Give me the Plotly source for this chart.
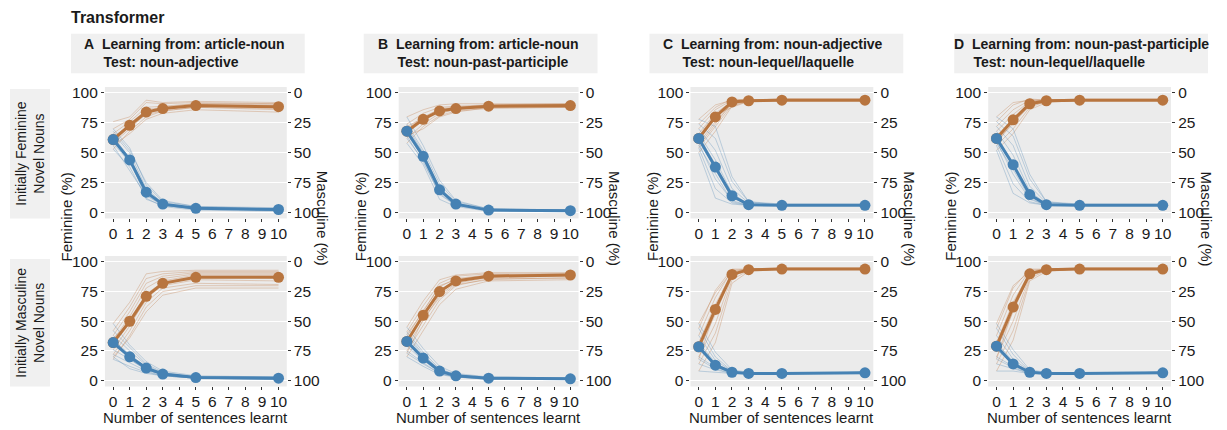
import plotly.graph_objects as go

# ---------------------------------------------------------------------------
# Data: share of feminine agreement (%) after n learnt sentences
# ---------------------------------------------------------------------------
STEPS = [0, 1, 2, 3, 5, 10]
X_TICKS = list(range(11))
Y_TICKS = [0, 25, 50, 75, 100]

PANEL_TITLES = [
    ("A", "Learning from: article-noun", "Test: noun-adjective"),
    ("B", "Learning from: article-noun", "Test: noun-past-participle"),
    ("C", "Learning from: noun-adjective", "Test: noun-lequel/laquelle"),
    ("D", "Learning from: noun-past-participle", "Test: noun-lequel/laquelle"),
]
ROW_LABELS = ["Initially Feminine<br>Novel Nouns", "Initially Masculine<br>Novel Nouns"]

# ---- A, initially feminine ----
A_FEM_F_MEAN = [61, 73, 84, 87, 89.5, 88.5]
A_FEM_F_RUNS = [
    [53, 68, 80, 85, 88, 87], [58, 70, 83, 86, 90, 89], [62, 74, 86, 88, 91, 90],
    [66, 76, 88, 89, 91, 91], [70, 78, 92, 91, 92, 91], [76, 80, 94, 92, 93, 92],
    [56, 66, 78, 83, 86, 84], [64, 72, 82, 85, 88, 86],
]
A_FEM_M_MEAN = [61, 44, 17, 7, 3.5, 2.5]
A_FEM_M_RUNS = [
    [53, 38, 12, 5, 2, 1], [58, 42, 15, 6, 3, 2], [62, 46, 18, 7, 4, 3],
    [66, 50, 20, 8, 4, 3], [70, 54, 23, 9, 5, 4], [68, 52, 25, 10, 5, 3],
    [56, 35, 14, 6, 3, 2], [64, 45, 11, 6, 3, 2],
]
# ---- A, initially masculine ----
A_MASC_F_MEAN = [32, 50, 71, 82, 87, 87]
A_MASC_F_RUNS = [
    [18, 38, 62, 75, 80, 80], [22, 42, 66, 78, 82, 81], [26, 46, 70, 80, 85, 84],
    [30, 50, 73, 83, 88, 88], [34, 54, 78, 86, 90, 90], [38, 58, 82, 88, 91, 91],
    [42, 62, 86, 90, 92, 92], [48, 66, 90, 92, 93, 93], [20, 36, 58, 72, 78, 78],
    [36, 48, 68, 84, 89, 89],
]
A_MASC_M_MEAN = [32, 20, 10.5, 5.5, 2.5, 2]
A_MASC_M_RUNS = [
    [18, 12, 7, 4, 2, 1], [22, 15, 8, 4, 2, 1], [26, 18, 9, 5, 2, 2],
    [30, 20, 10, 5, 3, 2], [34, 22, 11, 6, 3, 2], [38, 25, 13, 6, 3, 3],
    [42, 28, 14, 7, 3, 3], [48, 30, 16, 8, 4, 3], [20, 10, 6, 4, 2, 1],
    [36, 18, 9, 5, 3, 2],
]

# ---- B, initially feminine ----
B_FEM_F_MEAN = [68, 78, 85, 87, 89, 89.5]
B_FEM_F_RUNS = [
    [58, 72, 81, 85, 87, 88], [62, 74, 83, 86, 88, 88], [66, 77, 85, 87, 89, 89],
    [70, 80, 86, 88, 90, 90], [74, 83, 88, 89, 90, 91], [80, 86, 90, 91, 91, 91],
    [64, 70, 80, 84, 88, 88], [72, 79, 87, 88, 89, 90],
]
B_FEM_M_MEAN = [68, 47, 19, 7, 2, 1.5]
B_FEM_M_RUNS = [
    [58, 40, 11, 5, 1, 1], [62, 44, 15, 6, 2, 1], [66, 46, 18, 7, 2, 2],
    [70, 49, 21, 8, 2, 2], [74, 52, 24, 9, 3, 2], [80, 56, 27, 10, 3, 2],
    [64, 42, 16, 6, 2, 1], [72, 50, 20, 7, 2, 2],
]
# ---- B, initially masculine ----
B_MASC_F_MEAN = [33, 55, 75, 84, 88, 89]
B_MASC_F_RUNS = [
    [20, 42, 64, 77, 84, 85], [25, 46, 68, 80, 86, 86], [29, 50, 72, 82, 87, 88],
    [33, 55, 76, 84, 88, 89], [37, 59, 79, 86, 89, 90], [41, 63, 82, 88, 90, 90],
    [45, 67, 85, 89, 91, 91], [23, 52, 70, 81, 85, 87], [39, 58, 80, 85, 89, 89],
]
B_MASC_M_MEAN = [33, 19, 8, 4, 2, 1.5]
B_MASC_M_RUNS = [
    [20, 12, 5, 3, 1, 1], [25, 15, 6, 3, 1, 1], [29, 17, 7, 4, 2, 1],
    [33, 19, 8, 4, 2, 1], [37, 21, 9, 5, 2, 2], [41, 24, 10, 5, 2, 2],
    [45, 27, 12, 6, 3, 2], [23, 14, 6, 3, 2, 1], [39, 22, 9, 4, 2, 2],
]

# ---- C, initially feminine ----
C_FEM_F_MEAN = [62, 80, 92.5, 93.5, 94, 94]
C_FEM_F_RUNS = [
    [50, 68, 89, 93, 94, 94], [54, 72, 90, 93, 94, 94], [58, 76, 91, 93, 94, 94],
    [62, 80, 92, 93, 94, 94], [66, 83, 93, 94, 94, 94], [70, 86, 94, 94, 95, 95],
    [74, 88, 95, 94, 95, 95], [78, 90, 94, 94, 94, 94], [56, 74, 92, 94, 94, 94],
    [64, 82, 88, 93, 94, 94],
]
C_FEM_M_MEAN = [62, 38, 14, 6.5, 6, 6]
C_FEM_M_RUNS = [
    [50, 12, 7, 6, 6, 6], [54, 20, 8, 6, 6, 6], [58, 28, 10, 6, 6, 6],
    [62, 36, 12, 7, 6, 6], [66, 44, 16, 7, 6, 6], [70, 52, 20, 8, 6, 6],
    [74, 62, 26, 9, 6, 6], [78, 72, 30, 9, 7, 7], [56, 32, 9, 6, 6, 6],
    [64, 40, 14, 7, 6, 6],
]
# ---- C, initially masculine ----
C_MASC_F_MEAN = [28.5, 60, 89.5, 93.5, 94, 94]
C_MASC_F_RUNS = [
    [8, 32, 82, 92, 94, 94], [14, 40, 85, 93, 94, 94], [20, 48, 88, 93, 94, 94],
    [26, 56, 90, 93, 94, 94], [32, 64, 91, 94, 94, 94], [38, 70, 93, 94, 94, 94],
    [44, 76, 94, 94, 95, 95], [48, 74, 92, 94, 94, 94], [18, 60, 89, 93, 94, 94],
]
C_MASC_M_MEAN = [28.5, 13, 7, 6, 6, 6.5]
C_MASC_M_RUNS = [
    [8, 7, 6, 6, 6, 6], [14, 9, 6, 6, 6, 6], [20, 11, 7, 6, 6, 6],
    [26, 13, 7, 6, 6, 6], [32, 15, 7, 6, 6, 7], [38, 17, 8, 6, 6, 7],
    [44, 20, 8, 6, 6, 7], [48, 24, 9, 7, 6, 7], [18, 10, 6, 6, 6, 6],
]

# ---- D, initially feminine ----
D_FEM_F_MEAN = [62, 77.5, 91, 93.5, 94, 94]
D_FEM_F_RUNS = [
    [52, 66, 86, 92, 94, 94], [56, 70, 88, 93, 94, 94], [60, 74, 90, 93, 94, 94],
    [64, 78, 91, 94, 94, 94], [68, 82, 93, 94, 94, 94], [72, 86, 94, 94, 95, 95],
    [76, 90, 95, 94, 94, 94], [80, 92, 94, 94, 94, 94], [58, 76, 89, 93, 94, 94],
]
D_FEM_M_MEAN = [62, 40, 15, 6.5, 6, 6]
D_FEM_M_RUNS = [
    [52, 16, 8, 6, 6, 6], [56, 24, 9, 6, 6, 6], [60, 32, 11, 6, 6, 6],
    [64, 40, 14, 7, 6, 6], [68, 48, 18, 7, 6, 6], [72, 56, 22, 8, 6, 6],
    [76, 64, 28, 9, 6, 6], [80, 70, 32, 9, 7, 7], [58, 36, 12, 6, 6, 6],
]
# ---- D, initially masculine ----
D_MASC_F_MEAN = [29, 62, 90, 93.5, 94, 94]
D_MASC_F_RUNS = [
    [8, 34, 84, 92, 94, 94], [14, 42, 86, 93, 94, 94], [20, 50, 88, 93, 94, 94],
    [26, 58, 90, 93, 94, 94], [32, 66, 91, 94, 94, 94], [38, 72, 93, 94, 94, 94],
    [44, 78, 94, 94, 95, 95], [48, 80, 92, 94, 94, 94], [18, 60, 89, 93, 94, 94],
]
D_MASC_M_MEAN = [29, 14, 7, 6, 6, 6.5]
D_MASC_M_RUNS = [
    [8, 8, 6, 6, 6, 6], [14, 10, 6, 6, 6, 6], [20, 12, 7, 6, 6, 6],
    [26, 14, 7, 6, 6, 6], [32, 16, 7, 6, 6, 7], [38, 18, 8, 6, 6, 7],
    [44, 22, 8, 6, 6, 7], [48, 26, 9, 7, 6, 7], [18, 11, 6, 6, 6, 6],
]

# grid of panels: [row][column] -> (feminine mean, runs, masculine mean, runs)
GRID = [
    [
        (A_FEM_F_MEAN, A_FEM_F_RUNS, A_FEM_M_MEAN, A_FEM_M_RUNS),
        (B_FEM_F_MEAN, B_FEM_F_RUNS, B_FEM_M_MEAN, B_FEM_M_RUNS),
        (C_FEM_F_MEAN, C_FEM_F_RUNS, C_FEM_M_MEAN, C_FEM_M_RUNS),
        (D_FEM_F_MEAN, D_FEM_F_RUNS, D_FEM_M_MEAN, D_FEM_M_RUNS),
    ],
    [
        (A_MASC_F_MEAN, A_MASC_F_RUNS, A_MASC_M_MEAN, A_MASC_M_RUNS),
        (B_MASC_F_MEAN, B_MASC_F_RUNS, B_MASC_M_MEAN, B_MASC_M_RUNS),
        (C_MASC_F_MEAN, C_MASC_F_RUNS, C_MASC_M_MEAN, C_MASC_M_RUNS),
        (D_MASC_F_MEAN, D_MASC_F_RUNS, D_MASC_M_MEAN, D_MASC_M_RUNS),
    ],
]

# ---------------------------------------------------------------------------
# Layout geometry (pixels) and styles
# ---------------------------------------------------------------------------
W, H = 1227, 430
FONT = "Liberation Sans, Arial, sans-serif"
COL_PX = [(105, 287), (399, 579), (691, 874), (989, 1172)]
ROW_PX = [(85, 218), (256, 388)]
STRIP_PX = [(71, 305), (364, 598), (650, 904), (955, 1209)]
STRIP_TEXT_CX = [185, 479, 774, 1082]
ROWBOX_PX = [(87, 218), (259, 388)]

ORANGE = "#B8753F"
BLUE = "#4682B4"
ORANGE_THIN = "rgba(196,130,80,0.35)"
BLUE_THIN = "rgba(70,130,180,0.30)"
PANEL_BG = "#EBEBEB"
STRIP_BG = "#F0F0F0"
TEXT = "#1A1A1A"
TICK_FONT = dict(family=FONT, size=15.5, color=TEXT)
TITLE_FONT = dict(family=FONT, size=15, color=TEXT)


def px_x(v):
    return v / W


def px_y(v):
    return 1 - v / H


fig = go.Figure()
layout = {}

for r in range(2):
    for c in range(4):
        n = r * 4 + c + 1
        m = n + 8
        xs = "" if n == 1 else str(n)
        xref, yref, y2ref = "x" + xs, "y" + xs, "y" + str(m)
        x0, x1 = COL_PX[c]
        y0, y1 = ROW_PX[r]

        layout["xaxis" + xs] = dict(
            domain=[px_x(x0), px_x(x1)], anchor=yref, range=[-0.5, 10.5],
            tickmode="array", tickvals=X_TICKS, ticktext=[str(t) for t in X_TICKS],
            ticks="outside", ticklen=3, tickwidth=1, tickcolor="#333333",
            ticklabelstandoff=-2,
            showgrid=False, zeroline=False, showline=False, tickfont=TICK_FONT,
        )
        layout["yaxis" + xs] = dict(
            domain=[px_y(y1), px_y(y0)], anchor=xref, range=[-5, 105],
            tickmode="array", tickvals=Y_TICKS,
            ticks="outside", ticklen=3, tickwidth=1, tickcolor="#333333",
            showgrid=True, gridcolor="white", gridwidth=1.4,
            zeroline=False, showline=False, tickfont=TICK_FONT,
        )
        layout["yaxis" + str(m)] = dict(
            overlaying=yref, side="right", anchor=xref, range=[105, -5],
            tickmode="array", tickvals=Y_TICKS,
            ticks="outside", ticklen=3, tickwidth=1, tickcolor="#333333",
            showgrid=False, zeroline=False, showline=False, tickfont=TICK_FONT,
        )

        f_mean, f_runs, m_mean, m_runs = GRID[r][c]
        for run in f_runs:
            fig.add_trace(go.Scatter(x=STEPS, y=run, mode="lines", xaxis=xref, yaxis=yref,
                                     line=dict(color=ORANGE_THIN, width=1),
                                     showlegend=False, hoverinfo="skip"))
        for run in m_runs:
            fig.add_trace(go.Scatter(x=STEPS, y=run, mode="lines", xaxis=xref, yaxis=yref,
                                     line=dict(color=BLUE_THIN, width=1),
                                     showlegend=False, hoverinfo="skip"))
        fig.add_trace(go.Scatter(x=STEPS, y=f_mean, mode="lines+markers", xaxis=xref, yaxis=yref,
                                 line=dict(color=ORANGE, width=3),
                                 marker=dict(color=ORANGE, size=11),
                                 showlegend=False))
        fig.add_trace(go.Scatter(x=STEPS, y=m_mean, mode="lines+markers", xaxis=xref, yaxis=yref,
                                 line=dict(color=BLUE, width=3),
                                 marker=dict(color=BLUE, size=11),
                                 showlegend=False))
        # Masculine scale (100 - feminine) on the right-hand axis
        fig.add_trace(go.Scatter(x=STEPS, y=[100 - v for v in f_mean], mode="none",
                                 xaxis=xref, yaxis=y2ref, showlegend=False, hoverinfo="skip"))

shapes = []
annotations = []

annotations.append(dict(text="<b>Transformer</b>", x=px_x(69), y=px_y(15), xref="paper", yref="paper",
                        xanchor="left", yanchor="middle", showarrow=False,
                        font=dict(family=FONT, size=16, color=TEXT)))

nb = "\u00a0"
for c, (letter, learn, test) in enumerate(PANEL_TITLES):
    sx0, sx1 = STRIP_PX[c]
    shapes.append(dict(type="rect", xref="paper", yref="paper", x0=px_x(sx0), x1=px_x(sx1),
                       y0=px_y(71), y1=px_y(31), fillcolor=STRIP_BG, line=dict(width=0), layer="below"))
    label = f"<b>{letter}{nb}{nb}{learn}</b><br><b>{nb * 5}{test}</b>"
    annotations.append(dict(text=label, x=px_x(STRIP_TEXT_CX[c]), y=px_y(51), xref="paper", yref="paper",
                            xanchor="center", yanchor="middle", align="left", showarrow=False,
                            font=dict(family=FONT, size=14, color=TEXT)))
    # axis titles
    x0, x1 = COL_PX[c]
    annotations.append(dict(text="Feminine (%)", x=px_x(x0 - 38), y=px_y(216), xref="paper", yref="paper",
                            xanchor="center", yanchor="middle", textangle=-90, showarrow=False,
                            font=TITLE_FONT))
    annotations.append(dict(text="Masculine (%)", x=px_x(x1 + 36), y=px_y(218), xref="paper", yref="paper",
                            xanchor="center", yanchor="middle", textangle=90, showarrow=False,
                            font=TITLE_FONT))
    annotations.append(dict(text="Number of sentences learnt", x=px_x((x0 + x1) / 2), y=px_y(430),
                            xref="paper", yref="paper", xanchor="center", yanchor="bottom",
                            showarrow=False, font=TITLE_FONT))

for r, lab in enumerate(ROW_LABELS):
    by0, by1 = ROWBOX_PX[r]
    shapes.append(dict(type="rect", xref="paper", yref="paper", x0=px_x(10), x1=px_x(50),
                       y0=px_y(by1), y1=px_y(by0), fillcolor=STRIP_BG, line=dict(width=0), layer="below"))
    annotations.append(dict(text=lab, x=px_x(30), y=px_y((by0 + by1) / 2), xref="paper", yref="paper",
                            xanchor="center", yanchor="middle", textangle=-90, showarrow=False,
                            font=dict(family=FONT, size=14, color=TEXT)))

fig.update_layout(
    width=W, height=H, margin=dict(l=0, r=0, t=0, b=0),
    paper_bgcolor="white", plot_bgcolor=PANEL_BG,
    shapes=shapes, annotations=annotations, showlegend=False,
    font=dict(family=FONT, color=TEXT),
    **layout,
)

fig.write_html("out.html")
